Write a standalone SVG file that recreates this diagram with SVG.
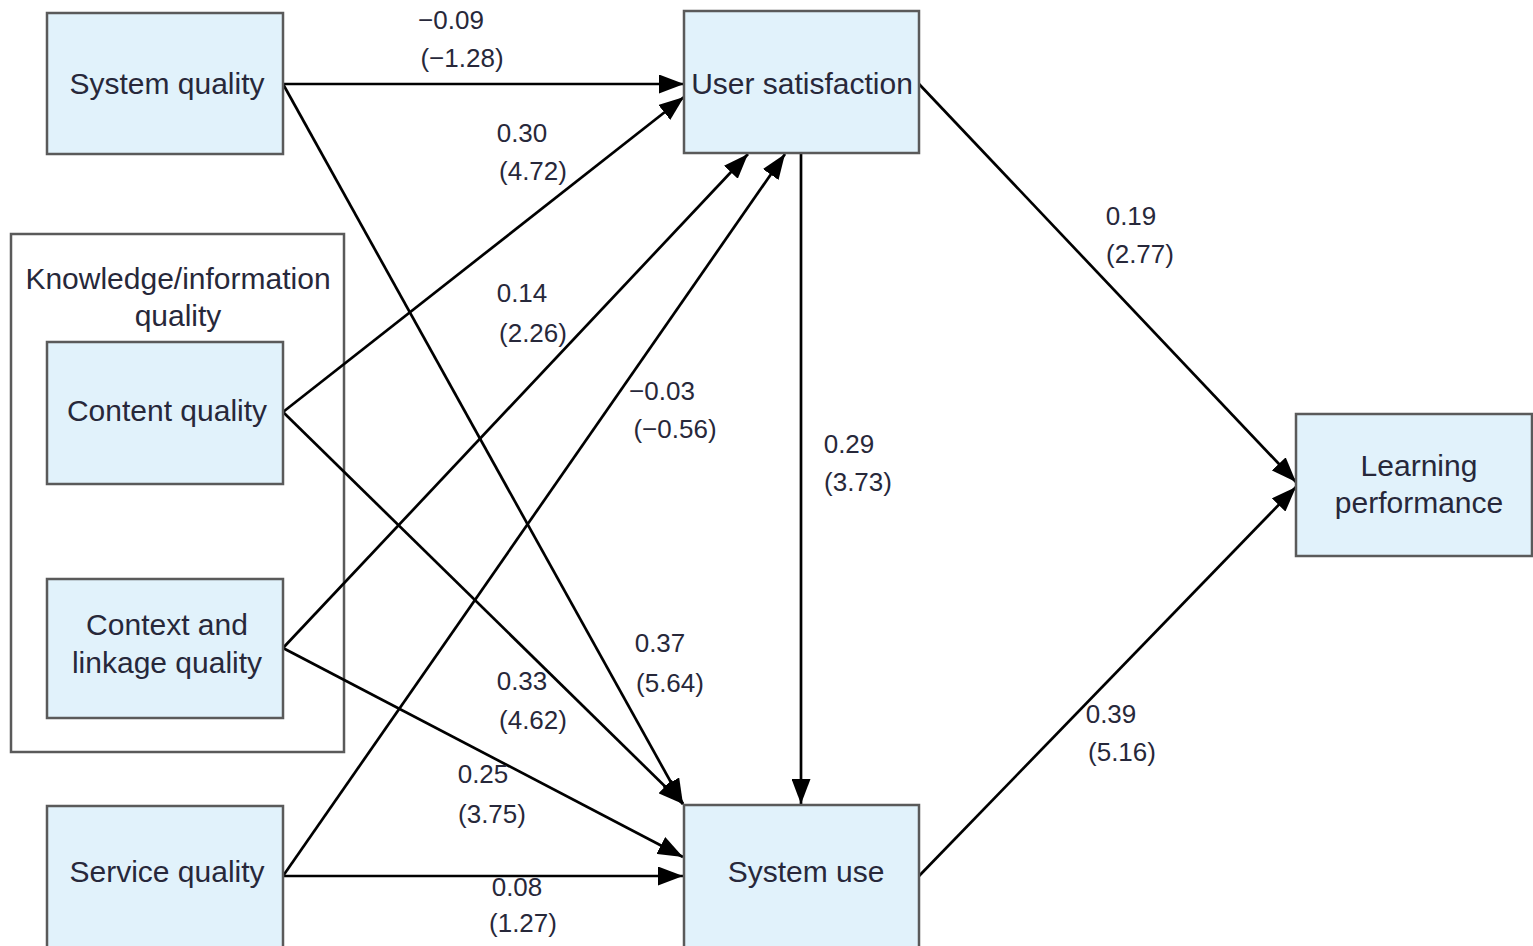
<svg xmlns="http://www.w3.org/2000/svg" width="1533" height="946" viewBox="0 0 1533 946">
<defs>
<marker id="ah" viewBox="0 0 25 19" refX="25" refY="9.5" markerWidth="25" markerHeight="19" markerUnits="userSpaceOnUse" orient="auto">
<path d="M0,0 L25,9.5 L0,19 z" fill="#000"/>
</marker>
<style>
.node{fill:#e1f2fb;stroke:#5a5a5a;stroke-width:2.5}
.grp{fill:none;stroke:#5a5a5a;stroke-width:2.5}
.nt{font-family:"Liberation Sans",Arial,sans-serif;font-size:30px;fill:#27283a;text-anchor:middle}
.lt{font-family:"Liberation Sans",Arial,sans-serif;font-size:26px;fill:#27283a;text-anchor:middle}
.e{stroke:#000;stroke-width:2.7;fill:none;marker-end:url(#ah)}
</style>
</defs>
<rect width="1533" height="946" fill="#fff"/>
<g id="group-knowledge">
<rect class="grp" x="11" y="234" width="333" height="518"/>
<text class="nt" x="178" y="289">Knowledge/information</text>
<text class="nt" x="178" y="326">quality</text>
</g>
<g id="connectors">
<line class="e" x1="283" y1="84" x2="684" y2="84"/>
<line class="e" x1="283" y1="84" x2="683" y2="804"/>
<line class="e" x1="283" y1="412" x2="684" y2="97"/>
<line class="e" x1="283" y1="412" x2="683" y2="804"/>
<line class="e" x1="283" y1="648" x2="748" y2="154"/>
<line class="e" x1="283" y1="648" x2="683" y2="857"/>
<line class="e" x1="283" y1="876" x2="785" y2="154"/>
<line class="e" x1="283" y1="876" x2="683" y2="876"/>
<line class="e" x1="801" y1="153" x2="801" y2="804"/>
<line class="e" x1="919" y1="84" x2="1296" y2="482"/>
<line class="e" x1="919" y1="876" x2="1296" y2="487"/>
</g>
<g id="labels">
<text class="lt" x="451" y="29">−0.09</text>
<text class="lt" x="462" y="67">(−1.28)</text>
<text class="lt" x="522" y="142">0.30</text>
<text class="lt" x="533" y="180">(4.72)</text>
<text class="lt" x="522" y="302">0.14</text>
<text class="lt" x="533" y="342">(2.26)</text>
<text class="lt" x="662" y="400">−0.03</text>
<text class="lt" x="675" y="438">(−0.56)</text>
<text class="lt" x="849" y="453">0.29</text>
<text class="lt" x="858" y="491">(3.73)</text>
<text class="lt" x="1131" y="225">0.19</text>
<text class="lt" x="1140" y="263">(2.77)</text>
<text class="lt" x="660" y="652">0.37</text>
<text class="lt" x="670" y="692">(5.64)</text>
<text class="lt" x="522" y="690">0.33</text>
<text class="lt" x="533" y="729">(4.62)</text>
<text class="lt" x="483" y="783">0.25</text>
<text class="lt" x="492" y="823">(3.75)</text>
<text class="lt" x="517" y="896">0.08</text>
<text class="lt" x="523" y="932">(1.27)</text>
<text class="lt" x="1111" y="723">0.39</text>
<text class="lt" x="1122" y="761">(5.16)</text>
</g>
<g id="system-quality">
<rect class="node" x="47" y="13" width="236" height="141"/>
<text class="nt" x="167" y="94">System quality</text>
</g>
<g id="content-quality">
<rect class="node" x="47" y="342" width="236" height="142"/>
<text class="nt" x="167" y="421">Content quality</text>
</g>
<g id="context-quality">
<rect class="node" x="47" y="579" width="236" height="139"/>
<text class="nt" x="167" y="635">Context and</text>
<text class="nt" x="167" y="673">linkage quality</text>
</g>
<g id="service-quality">
<rect class="node" x="47" y="806" width="236" height="145"/>
<text class="nt" x="167" y="882">Service quality</text>
</g>
<g id="user-satisfaction">
<rect class="node" x="684" y="11" width="235" height="142"/>
<text class="nt" x="802" y="94">User satisfaction</text>
</g>
<g id="system-use">
<rect class="node" x="684" y="805" width="235" height="146"/>
<text class="nt" x="806" y="882">System use</text>
</g>
<g id="learning-performance">
<rect class="node" x="1296" y="414" width="236" height="142"/>
<text class="nt" x="1419" y="476">Learning</text>
<text class="nt" x="1419" y="513">performance</text>
</g>
</svg>
